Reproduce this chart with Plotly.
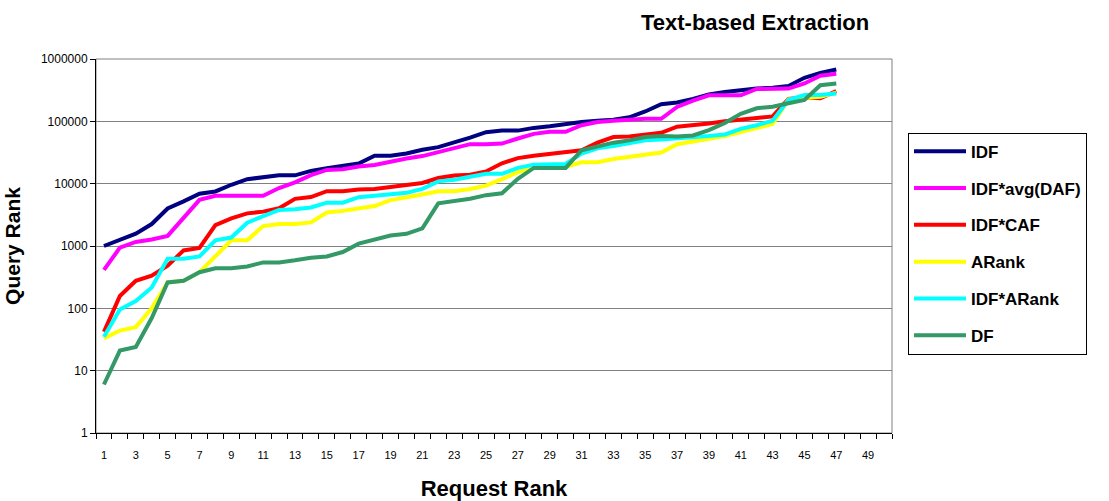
import plotly.graph_objects as go

# Request rank (x categories) and query rank per scoring method
request_rank = list(range(1, 48))

idf = [1000, 1250, 1580, 2250, 4000, 5200, 6900, 7500, 9600, 11800,
       12900, 13600, 13600, 16000, 17700, 19200, 21000, 28000, 28000, 30500,
       35000, 38500, 45000, 54600, 67000, 71000, 71000, 78500, 83400, 90800,
       97600, 102000, 106000, 116000, 144000, 188000, 200000, 228000, 270000, 295000,
       320000, 335000, 345000, 370000, 500000, 600000, 680000]

idf_avg_daf = [413, 940, 1160, 1270, 1450, 2770, 5500, 6400, 6400, 6400,
               6400, 8500, 10500, 13700, 16600, 17000, 18800, 19900, 22500, 25400,
               27700, 32400, 37900, 43000, 43000, 44000, 53000, 63000, 68000, 68000,
               86500, 97600, 102000, 106000, 110000, 110000, 170000, 215000, 262000, 262000,
               262000, 330000, 330000, 335000, 405000, 540000, 580000]

idf_caf = [42, 158, 277, 334, 485, 850, 930, 2160, 2770, 3340,
           3560, 4030, 5700, 6100, 7560, 7560, 8040, 8240, 8860, 9410,
           10240, 12300, 13500, 13900, 15700, 21200, 25700, 28000, 29800, 31600,
           34400, 45500, 55900, 56900, 61600, 65500, 82000, 86500, 92000, 100000,
           106000, 113000, 120000, 228000, 242000, 234000, 305000]

arank = [33, 44, 50, 100, 260, 277, 380, 680, 1235, 1235,
         2090, 2250, 2250, 2390, 3450, 3660, 3980, 4380, 5450, 6160,
         6720, 7560, 7560, 8240, 9300, 11800, 15300, 17900, 18300, 18700,
         22000, 22000, 24800, 27000, 28700, 31600, 42900, 48300, 52700, 58000,
         67000, 75700, 90800, 225000, 233000, 248000, 287000]

idf_arank = [35, 96, 131, 216, 624, 624, 680, 1235, 1365, 2360,
             3020, 3780, 3890, 4150, 4950, 4950, 6080, 6480, 6720, 7130,
             8240, 10900, 11600, 13000, 14400, 14400, 17900, 20200, 20700, 20700,
             30500, 37000, 40300, 45500, 49500, 51000, 52700, 55900, 58000, 61600,
             75700, 86500, 102000, 220000, 264000, 264000, 280000]

df = [6, 21, 24, 70, 260, 277, 380, 440, 440, 470,
      545, 545, 590, 650, 680, 800, 1090, 1270, 1470, 1570,
      1920, 4830, 5260, 5730, 6540, 7000, 12000, 17900, 17900, 17900,
      34400, 40300, 45500, 49500, 56000, 58000, 57000, 59400, 72100, 94200,
      132000, 162000, 172000, 195000, 220000, 379000, 403000]

series = [
    ("IDF", idf, "#000080"),
    ("IDF*avg(DAF)", idf_avg_daf, "#FF00FF"),
    ("IDF*CAF", idf_caf, "#FF0000"),
    ("ARank", arank, "#FFFF00"),
    ("IDF*ARank", idf_arank, "#00FFFF"),
    ("DF", df, "#339966"),
]

x_tick_vals = list(range(1, 50, 2))
y_tick_vals = [1, 10, 100, 1000, 10000, 100000, 1000000]
y_tick_text = ["1", "10", "100", "1000", "10000", "100000", "1000000"]

FONT = "Arial, Liberation Sans, sans-serif"

fig = go.Figure()
for i, (name, vals, color) in enumerate(series):
    fig.add_trace(go.Scatter(
        x=request_rank, y=vals, name=name, mode="lines",
        line=dict(color=color, width=4),
        legendgroup=f"g{i}",
    ))

fig.update_layout(
    width=1109, height=501,
    margin=dict(l=96, r=217, t=59, b=68),
    paper_bgcolor="white", plot_bgcolor="white",
    font=dict(family=FONT, color="black"),
    title=dict(
        text="<b>Text-based Extraction</b>",
        font=dict(size=22, family=FONT, color="black"),
        xref="paper", x=0.828, xanchor="center",
        yref="container", y=0.956, yanchor="middle",
    ),
    showlegend=True,
    legend=dict(
        x=1.0201, xanchor="left", y=0.803, yanchor="top",
        bordercolor="black", borderwidth=1, bgcolor="white",
        font=dict(size=17, family=FONT, color="black", weight="bold"),
        traceorder="grouped", tracegroupgap=11.7,
        itemwidth=52,
    ),
    xaxis=dict(
        range=[0.5, 50.5], automargin=False,
        tickmode="array", tickvals=x_tick_vals,
        ticks="", showgrid=False, zeroline=False,
        showline=True, linecolor="black", linewidth=1,
        tickfont=dict(size=11, family=FONT),
        ticklabelstandoff=12,
        minor=dict(tickmode="array", tickvals=[v + 0.5 for v in range(0, 51)],
                   ticks="outside", ticklen=5, tickcolor="black", showgrid=False),
        title=dict(text="<b>Request Rank</b>", font=dict(size=22, family=FONT),
                   standoff=20),
    ),
    yaxis=dict(
        type="log", range=[0, 6], automargin=False,
        tickmode="array", tickvals=y_tick_vals, ticktext=y_tick_text,
        ticks="outside", ticklen=5, tickcolor="black",
        showgrid=True, gridcolor="#808080", gridwidth=1,
        zeroline=False,
        showline=True, linecolor="black", linewidth=1,
        tickfont=dict(size=12, family=FONT),
        title=dict(text="<b>Query Rank</b>", font=dict(size=21, family=FONT),
                   standoff=14),
    ),
    shapes=[dict(type="rect", xref="paper", yref="paper", x0=0, x1=1, y0=0, y1=1,
                 line=dict(color="#808080", width=1), layer="below")],
)

fig.write_html("out.html")
